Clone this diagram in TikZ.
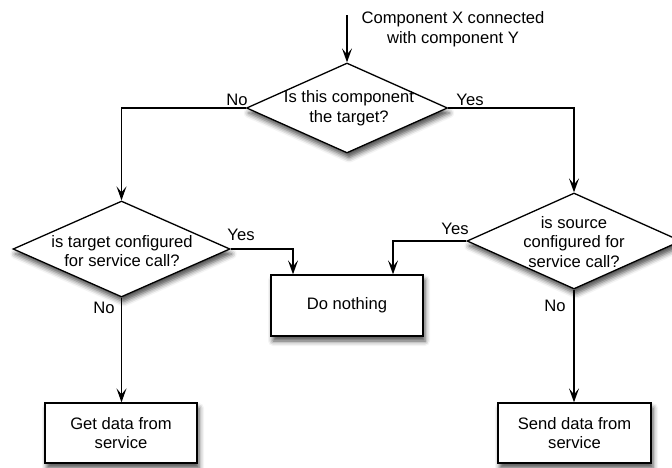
\documentclass[tikz,border=0pt]{standalone}
\usepackage{fontspec}
\setmainfont{Liberation Sans}
\usetikzlibrary{shapes.geometric,arrows.meta,shadows.blur}
\begin{document}
\begin{tikzpicture}[x=1pt,y=-1pt,
  every node/.style={font=\fontsize{16.6}{19.5}\selectfont},
  shad/.style={blur shadow={shadow xshift=2pt,shadow yshift=-5pt,shadow blur radius=5pt,shadow opacity=70}},
  dia/.style={diamond,draw,line width=1.3pt,fill=white,inner sep=0pt,shad},
  box/.style={rectangle,draw,line width=1.3pt,fill=white,inner sep=0pt,align=center,shad},
  txt/.style={align=center,inner sep=0pt},
  lbl/.style={inner sep=0pt},
  arr/.style={line width=1.3pt,-{Stealth[length=14pt,width=10pt,inset=6pt]}},
  ln/.style={line width=1.3pt}]
\useasboundingbox (0,0) rectangle (672,467);
% diamonds
\node[dia,minimum width=201pt,minimum height=90pt] (d1) at (347,108) {};
\node[txt] (t1) at (349,108) {Is this component\\the target?};
\node[dia,minimum width=217pt,minimum height=96pt] (d2) at (121.5,249) {};
\node[txt] (t2) at (122,251) {is target configured\\for service call?};
\node[dia,minimum width=214pt,minimum height=96pt] (d3) at (574,241) {};
\node[txt] (t3) at (574,242) {is source\\configured for\\service call?};
% boxes
\node[box,minimum width=152pt,minimum height=61pt] (nothing) at (347,305.5) {Do nothing};
\node[box,minimum width=152pt,minimum height=60pt] (get) at (121,433) {Get data from\\service};
\node[box,minimum width=153pt,minimum height=60pt] (send) at (574.5,433) {Send data from\\service};
% start
\coordinate (start) at (347,15);
\node[txt] (intro) at (453,29) {Component X connected\\with component Y};
% connectors
\draw[arr] (start) -- (d1.north);
\draw[arr] (d1.west) -| (d2.north);
\draw[arr] (d1.east) -| (d3.north);
\draw[arr] (d2.east) -| ([xshift=-54pt]nothing.north);
\draw[arr] (d3.west) -| ([xshift=46pt]nothing.north);
\draw[arr] (d2.south) -- (d2.south |- get.north);
\draw[arr] (d3.south) -- (d3.south |- send.north);
% labels
\node[lbl] (no1) at (237,100) {No};
\node[lbl] (yes1) at (470,100) {Yes};
\node[lbl] (yes2) at (241,235) {Yes};
\node[lbl] (yes3) at (455,229) {Yes};
\node[lbl] (no2) at (104,308) {No};
\node[lbl] (no3) at (555,306) {No};
\end{tikzpicture}
\end{document}
